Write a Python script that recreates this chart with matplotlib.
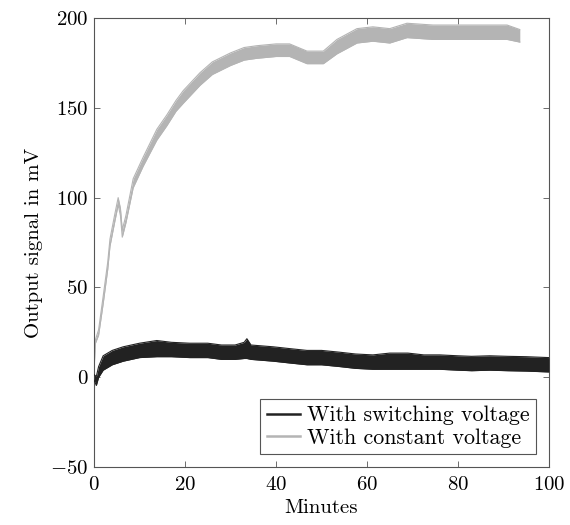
"""
plot.py -- output signal over time, switching vs constant voltage.
"""

import matplotlib
matplotlib.use("Agg")
import matplotlib.pyplot as plt
from matplotlib.lines import Line2D

# --------------------------------------------------------------------------
# Data (bands are centre +/- half width of the noise)
# --------------------------------------------------------------------------

minutes_switch = [0, 0.5, 1, 2, 4, 6.4, 10, 13.8, 17, 21, 25, 28, 31, 33, 33.6,
                  34.5, 39.4, 43, 46.8, 50, 54, 57.5, 61.3, 65, 69, 72.5, 76,
                  80, 83, 87, 91, 95, 100]
switch_mid = [0, -2, 3, 8, 11, 13, 15, 16, 15.5, 15, 15, 14, 14, 15, 16,
              14, 13, 12, 11, 11, 10, 9, 8.5, 9, 9, 8.5, 8.5,
              8, 7.7, 8, 7.7, 7.5, 7]
switch_hw = [1.5, 2.5, 3, 4, 4, 4, 4, 4.5, 4, 4, 4, 4, 4, 4.5, 5.5,
             4, 4, 4, 4, 4, 4, 4, 4, 4.5, 4.5, 4, 4,
             4, 4, 4, 4, 4, 4]

minutes_const = [0, 0.3, 1, 2, 3, 3.5, 4.5, 5.3, 5.8, 6.2, 7, 8.6, 10.8, 13.8,
                 16, 18, 19.6, 23.3, 26, 30, 33, 35.8, 40, 43, 46.8, 50.4,
                 53.4, 57.8, 61.3, 65, 68.8, 74.5, 79.8, 83.3, 87, 90.8, 93.6]
const_mid = [5, 20, 25, 43, 62, 75, 88, 98, 92, 80, 88, 108, 120, 135,
             143, 151, 156, 166, 172, 177, 180, 181, 182, 182, 178, 178,
             184, 190, 191, 190, 193, 192, 192, 192, 192, 192, 190]
const_hw = [1, 1, 1.5, 2, 2, 2, 2, 2, 2, 2, 2, 2.5, 2.5, 3,
            3, 3, 3.5, 3.5, 3.5, 3.5, 3.5, 3.5, 3.5, 3.5, 3.5, 3.5,
            4, 4, 4, 4, 4, 4, 4, 4, 4, 4, 3.5]

series_labels = ["With switching voltage", "With constant voltage"]
x_ticks = [0, 20, 40, 60, 80, 100]
y_ticks = [-50, 0, 50, 100, 150, 200]

# --------------------------------------------------------------------------
# Style
# --------------------------------------------------------------------------

plt.rcParams["font.family"] = ["cmr10", "DejaVu Serif"]
plt.rcParams["mathtext.fontset"] = "cm"
plt.rcParams["axes.formatter.use_mathtext"] = True

DARK = "#222222"
LIGHT = "#b4b4b4"
FRAME = "#555555"
FS = 15

fig = plt.figure(figsize=(5.70, 5.25), dpi=100)
ax = fig.add_axes([0.165, 0.110, 0.798, 0.856])


def band(x, mid, hw, colour, z):
    lo = [m - h for m, h in zip(mid, hw)]
    hi = [m + h for m, h in zip(mid, hw)]
    ax.fill_between(x, lo, hi, color=colour, linewidth=0, zorder=z)
    ax.plot(x, lo, color=colour, linewidth=0.8, zorder=z)
    ax.plot(x, hi, color=colour, linewidth=0.8, zorder=z)


band(minutes_const, const_mid, const_hw, LIGHT, 2)
band(minutes_switch, switch_mid, switch_hw, DARK, 3)

ax.set_xlim(0, 100)
ax.set_ylim(-50, 200)
ax.set_xticks(x_ticks)
ax.set_yticks(y_ticks)
ax.tick_params(direction="in", top=True, right=True, length=4,
               width=0.6, color=FRAME, labelsize=FS)
ax.tick_params(axis="x", pad=6)
ax.tick_params(axis="y", pad=4)
for spine in ax.spines.values():
    spine.set_color(FRAME)
    spine.set_linewidth(0.8)

ax.set_xlabel("Minutes", fontsize=FS, labelpad=4)
ax.set_ylabel("Output signal in mV", fontsize=FS, labelpad=5)

handles = [Line2D([], [], color=DARK, linewidth=1.8),
           Line2D([], [], color=LIGHT, linewidth=1.8)]
leg = ax.legend(handles, series_labels, loc="lower right", fontsize=FS + 0.8,
                fancybox=False, framealpha=1, edgecolor=FRAME,
                handlelength=1.5, handletextpad=0.3, borderpad=0.3,
                labelspacing=0.12, borderaxespad=0.6)
leg.get_frame().set_linewidth(0.8)

fig.savefig("out.png", dpi=100)
